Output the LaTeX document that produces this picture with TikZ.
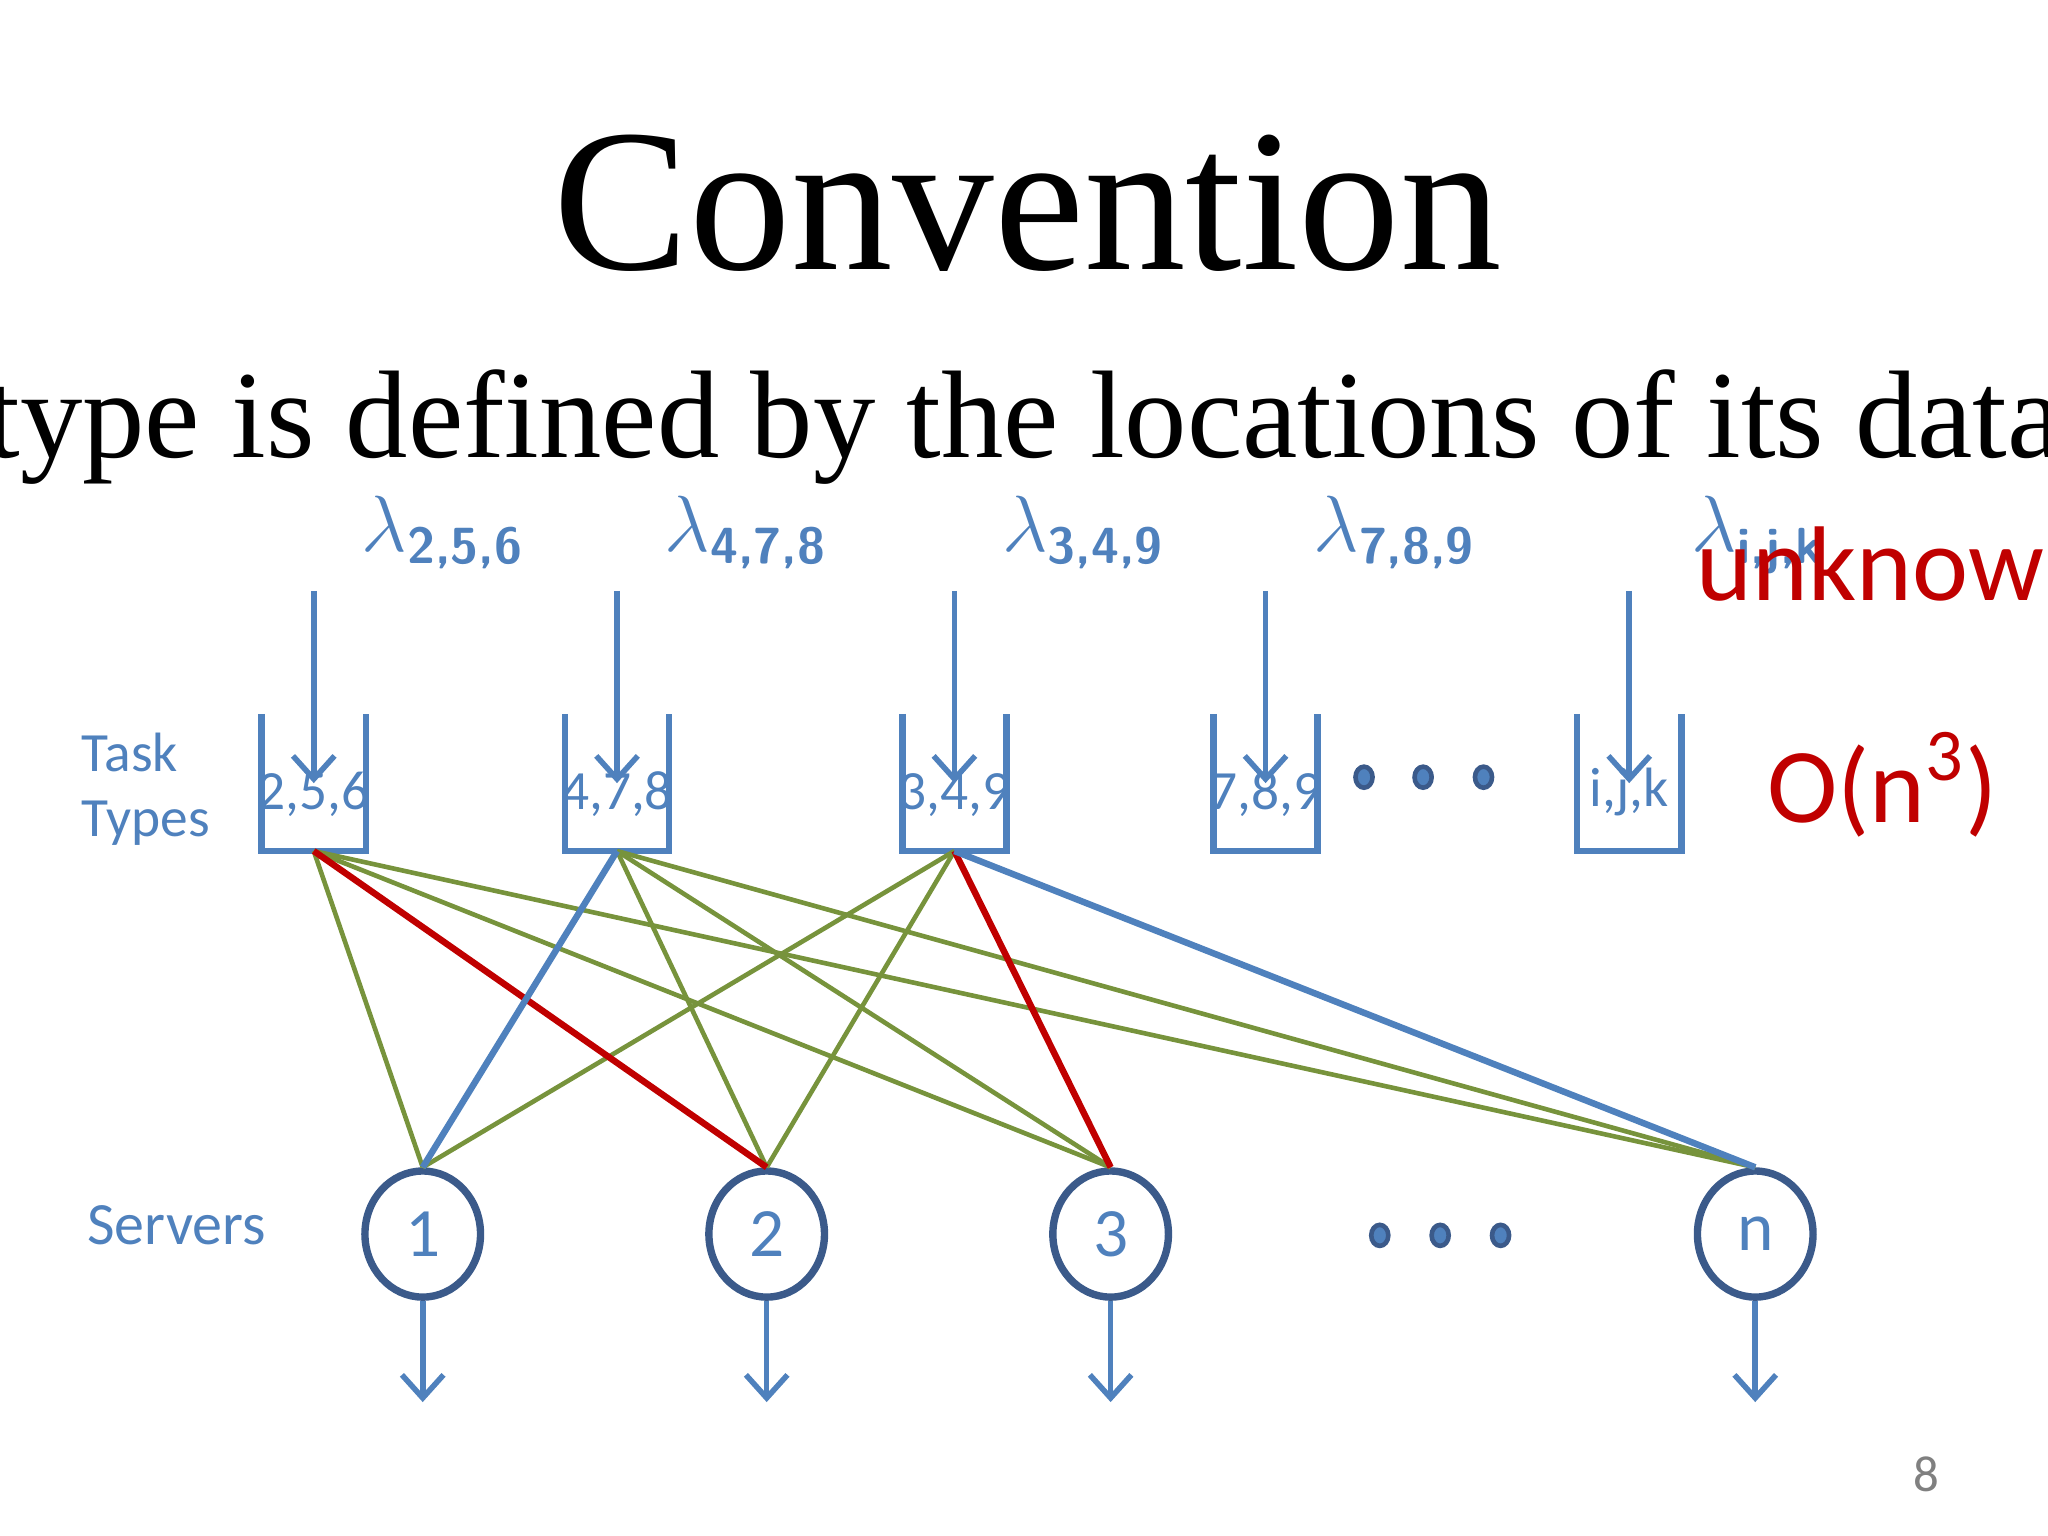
\documentclass[tikz,border=0pt]{standalone}
\usepackage{fontspec}
\setmainfont{Liberation Serif}
\newfontfamily\calibri{Carlito}
\usetikzlibrary{shapes.geometric,arrows.meta}
\definecolor{tblue}{HTML}{4F81BD}
\definecolor{sblue}{HTML}{3B5A8A}
\definecolor{tgreen}{HTML}{77933C}
\definecolor{tred}{HTML}{C00000}
\begin{document}
\begin{tikzpicture}[x=0.01cm,y=-0.01cm,>=stealth]
\tikzset{
  txt/.style={text=tblue,font=\calibri\fontsize{12}{14}\selectfont},
  bucket/.style={minimum width=0.78cm,minimum height=1.03cm,inner sep=0pt},
  feed/.style={->,tblue,line width=1.2pt,>={Straight Barb[length=5pt,width=9pt]}},
  server/.style={ellipse,draw=sblue,line width=1.6pt,minimum width=0.88cm,minimum height=0.96cm,text=tblue,font=\calibri\fontsize{15}{17}\selectfont},
  lam/.style={text=tblue,font=\fontsize{17}{20}\selectfont},
  dot/.style={ellipse,fill=tblue,draw=sblue,line width=1pt,minimum width=0.13cm,minimum height=0.16cm,inner sep=0pt},
  gr/.style={tgreen,line width=1pt},
  rd/.style={tred,line width=1.4pt},
  bl/.style={tblue,line width=1.4pt}
}
\useasboundingbox (0,0) rectangle (1560,1170);
\node (title) at (783,155) {\fontsize{44}{50}\selectfont Convention};
\node (sub) at (763,325) {\fontsize{27}{32}\selectfont A task type is defined by the locations of its data block};

% task types
\node[txt,align=left,anchor=west] (tt) at (50,601) {Task\\Types};
\foreach \n/\x/\l/\s in {a/239/{2,5,6}/{2,5,6},b/470/{4,7,8}/{4,7,8},c/727/{3,4,9}/{3,4,9},d/964/{7,8,9}/{7,8,9},e/1241/{i,j,k}/{i,j,k}}{
  \node[bucket] (\n) at (\x,596) {};
  \draw[tblue,line width=1.4pt] (\n.north west) -- (\n.south west) -- (\n.south east) -- (\n.north east);
  \node[txt,anchor=south] (\n lbl) at ([yshift=4pt]\n.south) {\l};
  \node[lam,anchor=base] (\n lam) at ([xshift=28pt]\x,420) {$\lambda_{\textsf{\bfseries\fontsize{11}{12}\selectfont\s}}$};
  \coordinate (\n top) at (\x,450);
  \draw[feed] (\n top) -- ([yshift=-15pt]\n.north);
}
\foreach \n/\x in {p/1039,q/1084,r/1130}{\node[dot] (\n) at (\x,592) {};}
\node[text=tred,font=\calibri\fontsize{23}{26}\selectfont] (unk) at (1446,430) {unknown};
\node[text=tred,font=\calibri\fontsize{23}{26}\selectfont] (on) at (1434,598) {O(n\textsuperscript{3})};

% servers
\node[txt,anchor=west,font=\calibri\fontsize{13}{15}\selectfont] (sv) at (54,933) {Servers};
\foreach \n/\x/\l in {s1/322/1,s2/584/2,s3/846/3,sn/1337/n}{
  \node[server] (\n) at (\x,940) {\l};
  \coordinate (\n out) at (\x,1068);
  \draw[feed] (\n) -- (\n out);
}
\foreach \n/\x in {u/1051,v/1097,w/1143}{\node[dot] (\n) at (\x,941) {};}

% connections
\draw[gr] (a.south) -- (s1.north);
\draw[gr] (a.south) -- (s3.north);
\draw[gr] (a.south) -- (sn.north);
\draw[gr] (b.south) -- (s2.north);
\draw[gr] (b.south) -- (s3.north);
\draw[gr] (b.south) -- (sn.north);
\draw[gr] (c.south) -- (s1.north);
\draw[gr] (c.south) -- (s2.north);
\draw[rd] (a.south) -- (s2.north);
\draw[rd] (c.south) -- (s3.north);
\draw[bl] (b.south) -- (s1.north);
\draw[bl] (c.south) -- (sn.north);

\node[text=gray,font=\calibri\fontsize{11}{13}\selectfont] (pg) at (1467,1123) {8};
\end{tikzpicture}
\end{document}
